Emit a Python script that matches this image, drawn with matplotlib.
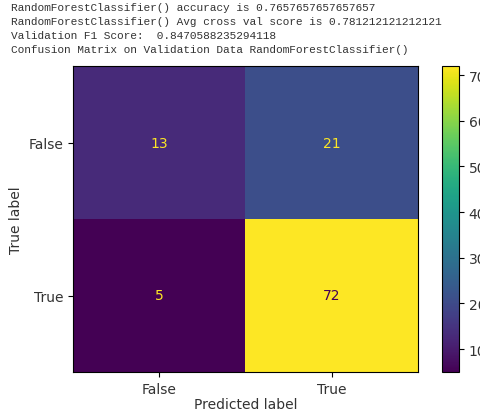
import matplotlib
matplotlib.use('Agg')
import matplotlib.pyplot as plt
import numpy as np

header_lines = [
    "RandomForestClassifier() accuracy is 0.7657657657657657",
    "RandomForestClassifier() Avg cross val score is 0.781212121212121",
    "Validation F1 Score:  0.8470588235294118",
    "Confusion Matrix on Validation Data RandomForestClassifier()",
]
class_labels = ["False", "True"]
cm = np.array([[13, 21],
               [5, 72]])

fig = plt.figure(figsize=(4.81, 4.14), dpi=100)

# printed notebook output above the plot
for i, line in enumerate(header_lines):
    fig.text(11 / 481, 1 - (8 + 14 * i) / 414, line, family='Liberation Mono',
             fontsize=8, color='#333333', va='center', ha='left')

ax = fig.add_axes([73 / 481, 1 - 373 / 414, 345 / 481, 306 / 414])
cax = fig.add_axes([442 / 481, 1 - 373 / 414, 17 / 481, 306 / 414])

cmap = plt.get_cmap('viridis')
im = ax.imshow(cm, cmap=cmap, aspect='auto')
thresh = (cm.max() + cm.min()) / 2
for i in range(cm.shape[0]):
    for j in range(cm.shape[1]):
        col = cmap(0.0) if cm[i, j] > thresh else cmap(1.0)
        ax.text(j, i, str(cm[i, j]), ha='center', va='center', color=col, fontsize=10)

ax.set_xticks(range(len(class_labels)))
ax.set_xticklabels(class_labels, color='#333333')
ax.set_yticks(range(len(class_labels)))
ax.set_yticklabels(class_labels, color='#333333')
ax.set_xlabel('Predicted label', color='#333333', labelpad=1)
ax.set_ylabel('True label', color='#333333')

cb = fig.colorbar(im, cax=cax)
cb.set_ticks([10, 20, 30, 40, 50, 60, 70])
cb.ax.tick_params(labelcolor='#333333')

fig.savefig('out.png', dpi=100)
